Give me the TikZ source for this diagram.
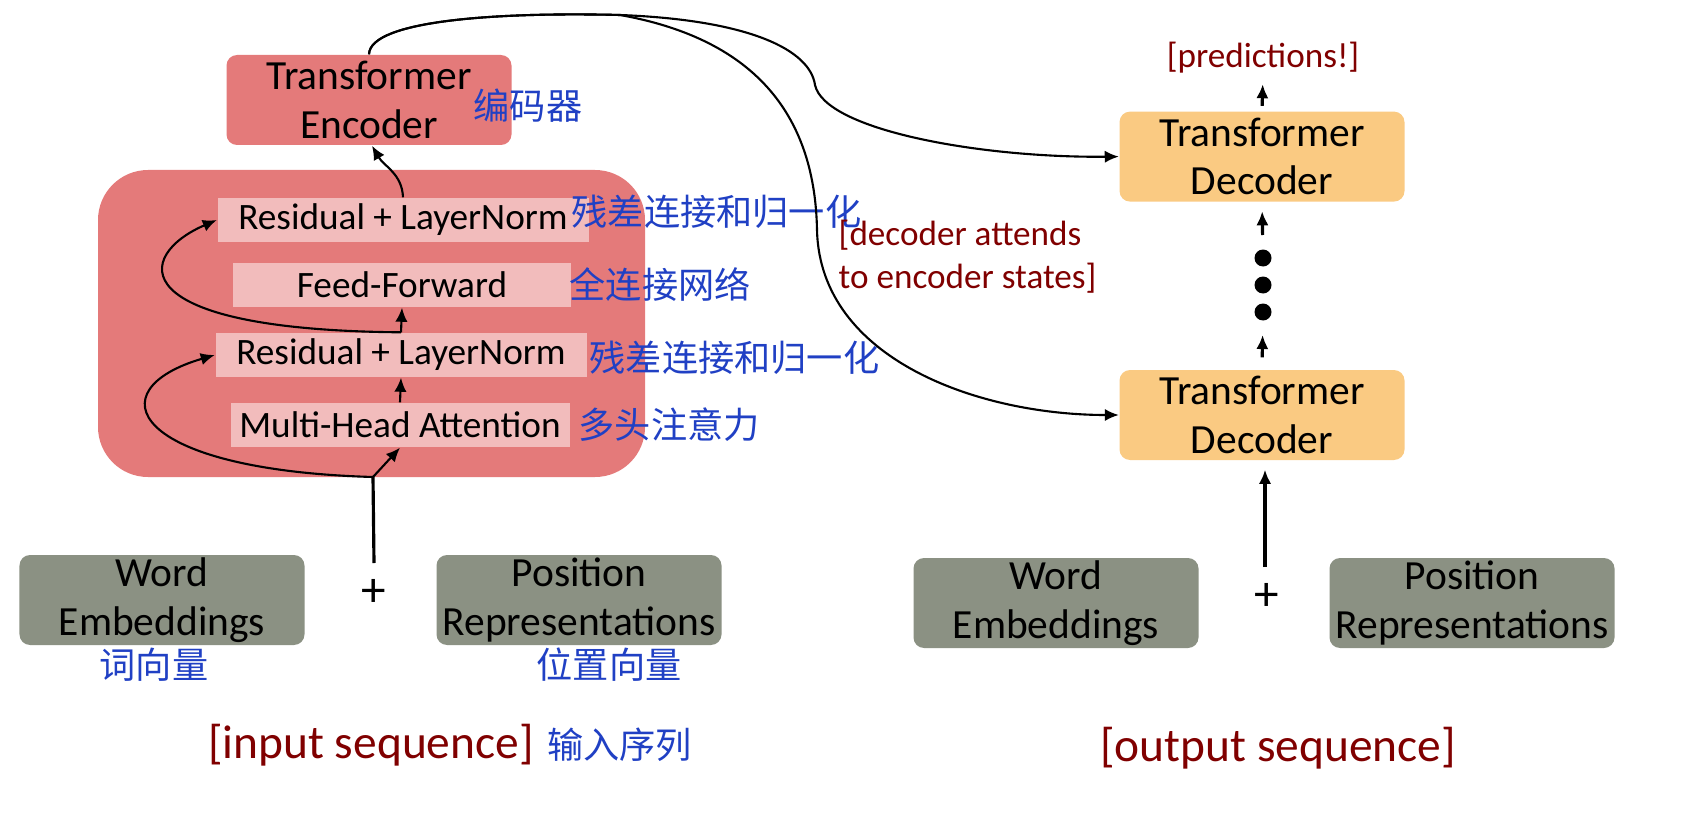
\documentclass[tikz,border=0pt]{standalone}
\usepackage{fontspec}
\setmainfont{Carlito}
\newfontfamily\cjk{Noto Sans CJK SC}
\usetikzlibrary{arrows.meta, positioning}

\definecolor{EncRed}{RGB}{228, 122, 122}
\definecolor{SubPink}{RGB}{242, 188, 188}
\definecolor{DecOrange}{RGB}{250, 202, 130}
\definecolor{EmbGray}{RGB}{139, 145, 131}
\definecolor{NoteRed}{RGB}{128, 0, 0}
\definecolor{ZhBlue}{RGB}{32, 64, 196}

\begin{document}
\begin{tikzpicture}[
    big/.style={rectangle, minimum width=2.85cm, minimum height=0.9cm, align=center,
                font=\fontsize{11.8}{13.8}\selectfont, rounded corners=3pt, inner sep=0pt},
    sub/.style={rectangle, fill=SubPink, minimum height=0.44cm, inner sep=0pt,
                font=\fontsize{10.6}{12.7}\selectfont},
    zh/.style={font=\cjk\fontsize{10.3}{12}\selectfont, text=ZhBlue, inner sep=0pt, anchor=west},
    note/.style={text=NoteRed, inner sep=0pt},
    arr/.style={-{Latex[length=4pt, width=3.5pt]}, line width=0.6pt},
    upar/.style={-{Latex[length=4pt, width=3.5pt]}, line width=0.9pt}
]
    \useasboundingbox (0,0) rectangle (16.98,-8.26);

    % encoder side
    \node[rectangle, fill=EncRed, rounded corners=0.5cm, minimum width=5.47cm,
          minimum height=3.07cm] (block) at (3.715,-3.235) {};
    \node[big, fill=EncRed] (enc) at (3.69,-1.00) {Transformer\\Encoder};
    \node[sub, minimum width=3.71cm] (rnTop) at (4.03,-2.20) {Residual + LayerNorm};
    \node[sub, minimum width=3.38cm] (ff) at (4.02,-2.85) {Feed-Forward};
    \node[sub, minimum width=3.71cm] (rnBot) at (4.01,-3.55) {Residual + LayerNorm};
    \node[sub, minimum width=3.39cm] (mha) at (4.00,-4.25) {Multi-Head Attention};

    \node[zh] (zhEnc) at (4.73,-1.06) {编码器};
    \node[zh] (zhRnTop) at (5.71,-2.12) {残差连接和归一化};
    \node[zh] (zhFf) at (5.69,-2.85) {全连接网络};
    \node[zh] (zhRnBot) at (5.89,-3.58) {残差连接和归一化};
    \node[zh] (zhMha) at (5.78,-4.25) {多头注意力};

    \node[big, fill=EmbGray] (weL) at (1.62,-6.00) {Word\\Embeddings};
    \node[big, fill=EmbGray] (prL) at (5.79,-6.00) {Position\\Representations};
    \node[font=\fontsize{14}{16}\selectfont] (plusL) at (3.74,-5.93) {+};
    \node[zh, anchor=center] (zhWeL) at (1.54,-6.65) {词向量};
    \node[zh, anchor=center] (zhPrL) at (6.09,-6.65) {位置向量};
    \node[note, font=\fontsize{13.5}{16}\selectfont] (inSeq) at (3.71,-7.45) {[input sequence]};
    \node[zh, right=0.12cm of inSeq] (zhInSeq) {输入序列};

    \coordinate (inL) at (3.74,-5.63);
    \coordinate (jL) at (3.73,-4.77);

    \draw[line width=0.9pt] (inL) -- (jL);
    \draw[arr] (jL) -- (mha.south);
    \draw[arr] (jL) .. controls (1.3,-4.7) and (0.95,-3.9) .. (rnBot.west);
    \draw[arr] (mha.north) -- (rnBot.south);
    \draw[arr] (rnBot.north) -- (ff.south);
    \draw[arr] (rnBot.north) .. controls (1.2,-3.3) and (1.35,-2.55) .. (rnTop.west);
    \draw[arr] (rnTop.north) to[out=92, in=-60] ([xshift=0.03cm]enc.south);

    % decoder side
    \node[big, fill=DecOrange] (decBot) at (12.62,-4.15) {Transformer\\Decoder};
    \node[big, fill=DecOrange, above=1.67cm of decBot] (decTop) {Transformer\\Decoder};
    \node[note, font=\fontsize{10}{12}\selectfont] (pred) at (12.63,-0.58) {[predictions!]};
    \foreach \i/\y in {1/-2.58, 2/-2.85, 3/-3.12}
        \fill (12.63,\y) circle (0.085) coordinate (d\i);
    \node[big, fill=EmbGray] (weR) at (10.56,-6.03) {Word\\Embeddings};
    \node[big, fill=EmbGray] (prR) at (14.72,-6.03) {Position\\Representations};
    \node[font=\fontsize{14}{16}\selectfont] (plusR) at (12.67,-5.97) {+};
    \node[note, font=\fontsize{13.5}{16}\selectfont] (outSeq) at (12.78,-7.48) {[output sequence]};
    \node[note, font=\fontsize{10}{12.2}\selectfont, align=left, anchor=west] (attn)
        at (8.38,-2.565) {[decoder attends\\to encoder states]};

    \coordinate (inR) at (12.65,-5.67);
    \draw[upar, shorten >=0.09cm] (inR) -- (inR |- decBot.south);
    \draw[upar, shorten <=0.12cm, shorten >=0.23cm] (decBot.north) -- (d3);
    \draw[upar, shorten <=0.23cm, shorten >=0.09cm] (d1) -- (decTop.south);
    \draw[upar, shorten <=0.05cm, shorten >=0.1cm] (decTop.north) -- (pred.south);

    % encoder states into decoders
    \draw[arr] (enc.north) .. controls (3.7,-0.2) and (5.0,-0.12) .. (6.2,-0.15)
        .. controls (7.5,-0.2) and (8.1,-0.5) .. (8.15,-0.85)
        .. controls (8.25,-1.3) and (9.8,-1.58) .. (decTop.west);
    \draw[arr] (enc.north) .. controls (3.7,-0.2) and (5.0,-0.12) .. (6.2,-0.15)
        .. controls (7.6,-0.4) and (8.15,-1.2) .. (8.17,-2.3)
        .. controls (8.2,-3.6) and (9.8,-4.15) .. (decBot.west);
\end{tikzpicture}
\end{document}
